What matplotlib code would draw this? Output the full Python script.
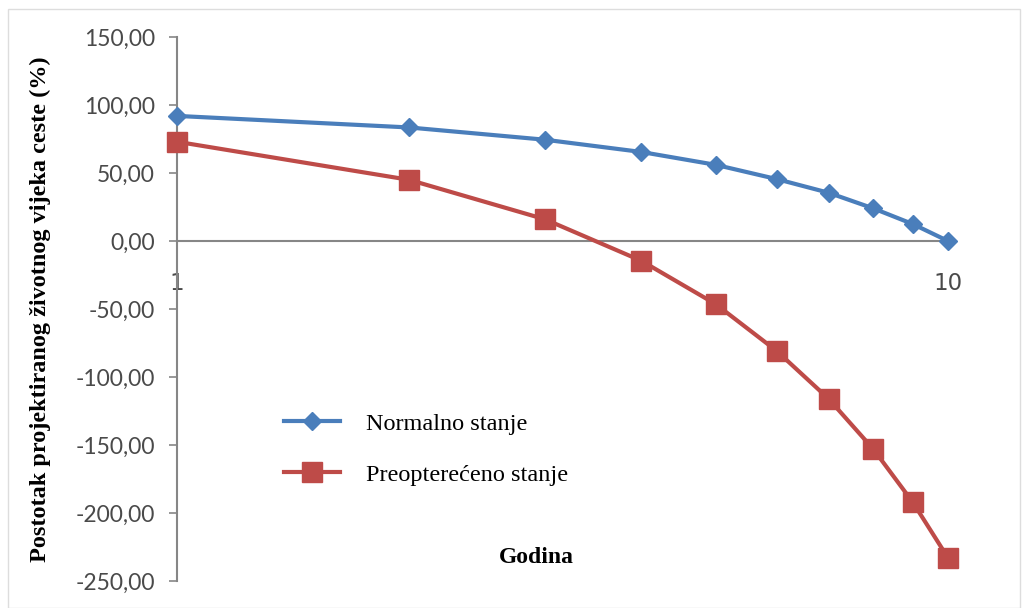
import matplotlib.pyplot as plt
from matplotlib.patches import Rectangle

godina = [1, 2, 3, 4, 5, 6, 7, 8, 9, 10]
normalno = [92.0, 83.5, 74.5, 65.5, 56.0, 45.5, 35.5, 24.0, 12.5, 0.0]
preoptereceno = [73.0, 45.0, 16.0, -14.5, -46.5, -81.0, -116.0, -153.0, -192.0, -233.0]
y_ticks = [150, 100, 50, 0, -50, -100, -150, -200, -250]

blue = '#4A7EBB'
red = '#BE4B48'
grey = '#868686'

fig = plt.figure(figsize=(10.22, 6.08), dpi=100)
ax = fig.add_axes([0.1732, 0.0444, 0.7544, 0.8947])

ax.plot(godina, normalno, color=blue, lw=3, marker='D', ms=9.5,
        mec=blue, mfc=blue, label='Normalno stanje', zorder=3, clip_on=False)
ax.plot(godina, preoptereceno, color=red, lw=3, marker='s', ms=14,
        mec=red, mfc=red, label='Preopterećeno stanje', zorder=3, clip_on=False)

ax.set_xscale('log')
ax.set_xlim(1, 10)
ax.set_ylim(-250, 150)
ax.minorticks_off()
ax.set_xticks([1, 10])
ax.set_xticklabels(['1', '10'])
ax.set_yticks(y_ticks)
ax.set_yticklabels([('%.2f' % v).replace('.', ',') for v in y_ticks])

ax.tick_params(axis='both', labelsize=16.5, labelcolor='#4a4a4a')
for lab in ax.get_yticklabels() + ax.get_xticklabels():
    lab.set_fontfamily('Lato')
ax.tick_params(axis='y', direction='out', length=6, width=1.2, color=grey, pad=10)
ax.tick_params(axis='x', length=0, pad=22)

ax.spines['top'].set_visible(False)
ax.spines['right'].set_visible(False)
ax.spines['bottom'].set_position(('data', 0))
ax.spines['bottom'].set_color(grey)
ax.spines['left'].set_color(grey)
ax.spines['bottom'].set_linewidth(1.5)
ax.spines['left'].set_linewidth(1.5)
ax.patch.set_visible(False)

fig.text(0.040, 0.492, 'Postotak projektiranog životnog vijeka ceste (%)',
         rotation=90, ha='center', va='center', fontsize=17.5,
         fontweight='bold', family='Liberation Serif')
fig.text(0.525, 0.083, 'Godina', ha='center', va='center', fontsize=17,
         fontweight='bold', family='Liberation Serif')

leg = ax.legend(loc='upper left', bbox_to_anchor=(0.11, 0.35), frameon=False,
                prop={'family': 'Liberation Serif', 'size': 17.5},
                handlelength=2.3, labelspacing=1.2, handletextpad=1.1)

fig.patches.append(Rectangle((0.008, 0.0), 0.99, 0.985, transform=fig.transFigure,
                             fill=False, edgecolor='#dddddd', lw=1))

fig.savefig('out.png', dpi=100)
